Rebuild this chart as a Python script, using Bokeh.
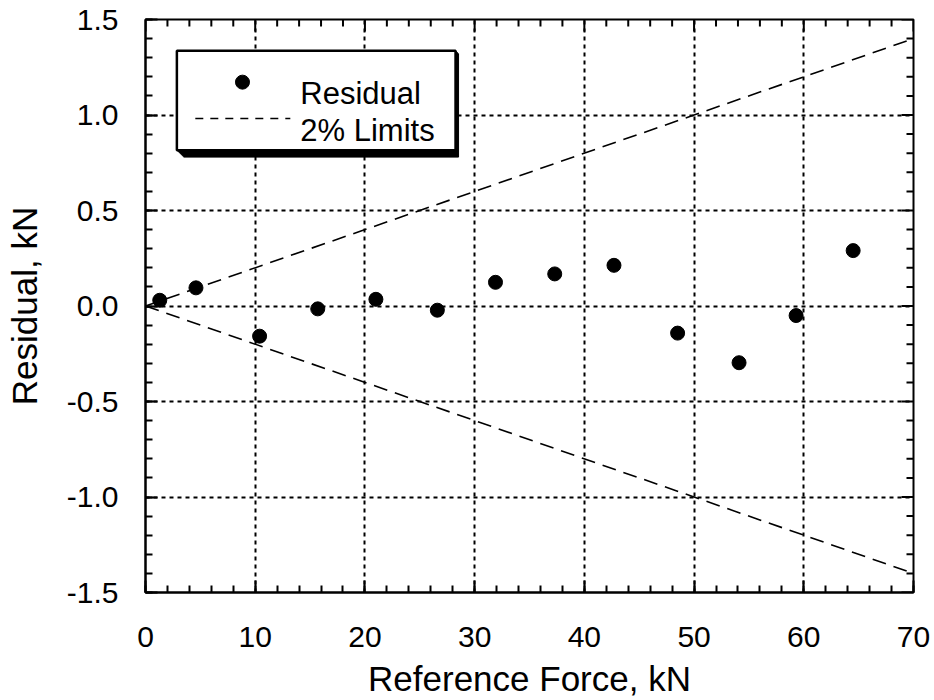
from bokeh.plotting import figure
from bokeh.models import Range1d, FixedTicker, NumeralTickFormatter
from bokeh.core.properties import value
from bokeh.embed import file_html
from bokeh.resources import INLINE

# ---- data ----
ref_force = [1.3, 4.6, 10.4, 15.7, 21.0, 26.6, 31.9, 37.3, 42.7, 48.5, 54.1, 59.3, 64.5]
residual = [0.03, 0.095, -0.158, -0.015, 0.035, -0.022, 0.124, 0.168, 0.213, -0.142, -0.297, -0.05, 0.29]
limit_x = [0.0, 70.0]
limit_upper = [0.0, 1.4]
limit_lower = [0.0, -1.4]
x_ticks = [0, 10, 20, 30, 40, 50, 60, 70]
y_ticks = [-1.5, -1.0, -0.5, 0.0, 0.5, 1.0, 1.5]
x_minor = [v for v in range(0, 71, 2)]
y_minor = [round(-1.5 + 0.1 * i, 2) for i in range(31)]
legend_labels = ["Residual", "2% Limits"]

FONT = "Liberation Sans"
X0, X1, Y0, Y1 = 0, 70, -1.5, 1.5
W, H = 934, 700
BL, BR, BT, BB = 145, 21, 19, 104
FRAME_W, FRAME_H = float(W - BL - BR), float(H - BT - BB)

p = figure(width=W, height=H, output_backend="svg", toolbar_location=None,
           x_range=Range1d(X0, X1), y_range=Range1d(Y0, Y1),
           min_border_left=BL, min_border_right=BR, min_border_top=BT, min_border_bottom=BB)
p.background_fill_color = "white"
p.border_fill_color = "white"
p.outline_line_color = "black"
p.outline_line_width = 2

xt = FixedTicker(ticks=x_ticks, minor_ticks=x_minor)
yt = FixedTicker(ticks=y_ticks, minor_ticks=y_minor)

def style_axis(ax):
    ax.axis_line_color = "black"
    ax.axis_line_width = 2
    ax.major_tick_in = 12
    ax.major_tick_out = 0
    ax.minor_tick_in = 7
    ax.minor_tick_out = 0
    ax.major_tick_line_color = "black"
    ax.major_tick_line_width = 2
    ax.minor_tick_line_color = "black"
    ax.minor_tick_line_width = 2
    ax.major_label_text_font = FONT
    ax.major_label_text_font_size = "30px"
    ax.major_label_text_color = "black"
    ax.axis_label_text_font = FONT
    ax.axis_label_text_font_style = "normal"
    ax.axis_label_text_color = "black"

xa = p.xaxis[0]
xa.ticker = xt
style_axis(xa)
xa.axis_label = "Reference Force, kN"
xa.axis_label_text_font_size = "35px"
xa.major_label_standoff = 34
xa.axis_label_standoff = 9

ya = p.yaxis[0]
ya.ticker = yt
ya.formatter = NumeralTickFormatter(format="0.0")
style_axis(ya)
ya.axis_label = "Residual, kN"
ya.axis_label_text_font_size = "35px"
ya.major_label_standoff = 27
ya.axis_label_standoff = 20

p.xgrid.ticker = xt
p.ygrid.ticker = yt
for g in (p.xgrid[0], p.ygrid[0]):
    g.grid_line_color = "black"
    g.grid_line_width = 2
    g.grid_line_dash = "4 4"

px_x = (X1 - X0) / FRAME_W   # data units per pixel, x
px_y = (Y1 - Y0) / FRAME_H   # data units per pixel, y

# inward ticks on the top and right frame edges (mirroring the axes' ticks)
top_major = [t for t in x_ticks]
top_minor = [t for t in x_minor if t not in x_ticks]
p.segment(top_major, [Y1] * len(top_major), top_major, [Y1 - 12 * px_y] * len(top_major),
          line_color="black", line_width=2)
p.segment(top_minor, [Y1] * len(top_minor), top_minor, [Y1 - 7 * px_y] * len(top_minor),
          line_color="black", line_width=2)
right_major = [t for t in y_ticks]
right_minor = [t for t in y_minor if t not in y_ticks]
p.segment([X1] * len(right_major), right_major, [X1 - 12 * px_x] * len(right_major), right_major,
          line_color="black", line_width=2)
p.segment([X1] * len(right_minor), right_minor, [X1 - 7 * px_x] * len(right_minor), right_minor,
          line_color="black", line_width=2)

# limit lines
p.line(limit_x, limit_upper, line_color="black", line_width=1.6, line_dash="14 8")
p.line(limit_x, limit_lower, line_color="black", line_width=1.6, line_dash="14 8")

# residual points
p.scatter(ref_force, residual, size=14, fill_color="black", line_color="black")

# ---- legend (drawn by hand to get the drop shadow) ----
L, R, T, B = 2.86, 28.26, 1.336, 0.816
p.patch([R, R + 3 * px_x, R + 3 * px_x, L + 7 * px_x, L],
        [T, T - 3 * px_y, B - 7 * px_y, B - 7 * px_y, B],
        fill_color="black", line_color="black", level="overlay")
p.quad(left=[L], right=[R], top=[T], bottom=[B], fill_color="white",
       line_color="black", line_width=2.5, level="overlay")
p.scatter([8.84], [1.172], size=14, fill_color="black", line_color="black", level="overlay")
p.line([4.54, 13.2], [0.982, 0.982], line_color="black", line_width=1.5,
       line_dash="8 7", level="overlay")
p.text([14.11, 14.11], [1.112, 0.921], text=legend_labels, text_font=value(FONT),
       text_font_size="31px", text_color="black", text_baseline="alphabetic",
       text_align="left", level="overlay")

open("out.html", "w").write(file_html(p, INLINE))
